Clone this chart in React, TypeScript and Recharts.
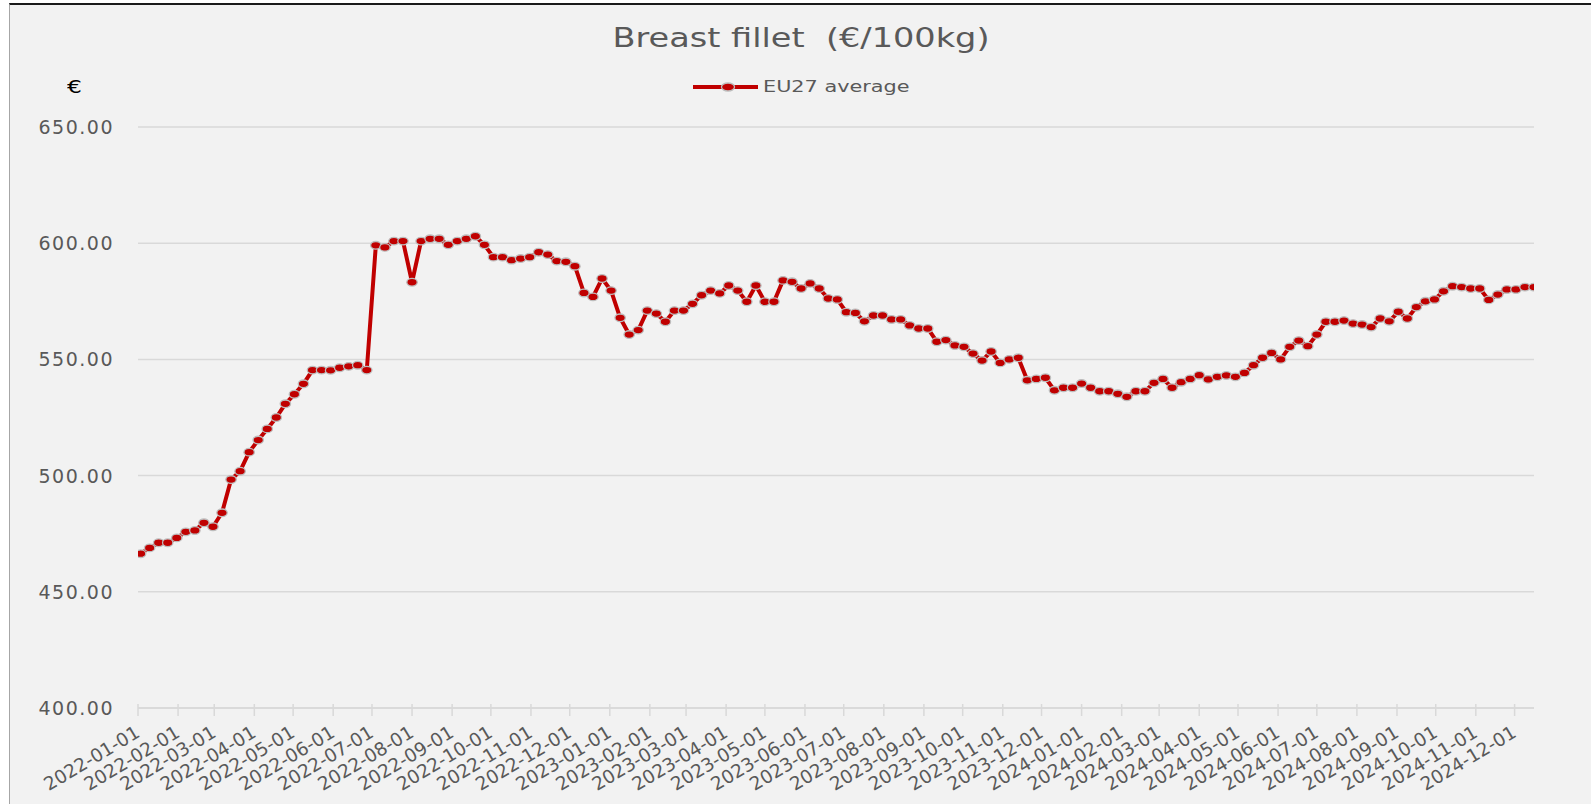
import React from "react";
import { LineChart, Line, XAxis, YAxis, CartesianGrid } from "recharts";

// weekly quotations, first week starts Monday 2022-01-03
const FIRST_WEEK = "2022-01-03";
const AXIS_START = "2022-01-01";
const AXIS_END = "2024-12-16";
const DAY = 24 * 3600 * 1000;

const monthTicks = [
  "2022-01-01", "2022-02-01", "2022-03-01", "2022-04-01", "2022-05-01", "2022-06-01",
  "2022-07-01", "2022-08-01", "2022-09-01", "2022-10-01", "2022-11-01", "2022-12-01",
  "2023-01-01", "2023-02-01", "2023-03-01", "2023-04-01", "2023-05-01", "2023-06-01",
  "2023-07-01", "2023-08-01", "2023-09-01", "2023-10-01", "2023-11-01", "2023-12-01",
  "2024-01-01", "2024-02-01", "2024-03-01", "2024-04-01", "2024-05-01", "2024-06-01",
  "2024-07-01", "2024-08-01", "2024-09-01", "2024-10-01", "2024-11-01", "2024-12-01",
];

const yTicks = [400, 450, 500, 550, 600, 650];

// EU27 average, €/100kg
const eu27Average = [
  466.4, 468.9, 471.1, 471.1, 473.2, 475.8, 476.4, 479.7, 478.0, 484.0,
  498.3, 501.9, 510.1, 515.3, 520.1, 525.0, 530.9, 535.0, 539.5, 545.4,
  545.4, 545.3, 546.4, 547.0, 547.5, 545.4, 599.1, 598.2, 600.9, 600.9,
  583.2, 600.9, 601.9, 601.9, 599.3, 600.9, 601.9, 603.0, 599.3, 594.0,
  594.0, 592.7, 593.4, 594.0, 596.1, 595.1, 592.3, 592.0, 590.1, 578.6,
  576.9, 584.8, 579.6, 567.9, 560.7, 562.6, 571.0, 569.7, 566.2, 571.0,
  571.0, 573.9, 577.6, 579.6, 578.4, 581.8, 579.6, 574.8, 581.8, 574.8,
  574.8, 584.0, 583.4, 580.5, 582.7, 580.5, 576.2, 575.8, 570.3, 570.0,
  566.4, 568.9, 568.9, 567.2, 567.2, 564.6, 563.3, 563.3, 557.6, 558.3,
  556.0, 555.4, 552.5, 549.5, 553.4, 548.5, 550.0, 550.7, 541.0, 541.6,
  542.1, 536.7, 537.8, 537.8, 539.6, 537.8, 536.3, 536.3, 535.2, 533.9,
  536.3, 536.3, 539.9, 541.6, 537.8, 540.2, 541.6, 543.2, 541.4, 542.5,
  543.1, 542.5, 544.2, 547.5, 550.7, 552.8, 550.0, 555.4, 558.1, 555.7,
  560.7, 566.2, 566.2, 566.7, 565.4, 565.0, 563.9, 567.6, 566.4, 570.5,
  567.6, 572.5, 575.0, 575.8, 579.3, 581.5, 581.1, 580.5, 580.5, 575.6,
  577.9, 580.1, 580.1, 581.1, 581.1,
];

const RED = "#c00000";
const TEXT = "#595959";
const GRID = "#d9d9d9";
const FONT = "'DejaVu Sans', sans-serif";

const firstWeek = Date.parse(FIRST_WEEK);
const data = eu27Average.map((value, i) => ({ date: firstWeek + i * 7 * DAY, value }));
const tickValues = monthTicks.map((d) => Date.parse(d));

const Dot = (props: any) => {
  const { cx, cy, index } = props;
  if (cx == null || cy == null) return null;
  return (
    <ellipse key={index} cx={cx} cy={cy} rx={5.2} ry={3.8} fill={RED} stroke="#bdbdbd" strokeWidth={1.3} />
  );
};

const XTick = (props: any) => {
  const { x, y, payload } = props;
  const label = new Date(payload.value).toISOString().slice(0, 10);
  return (
    <g>
      <line x1={x} y1={y - 6} x2={x} y2={y + 6} stroke={GRID} strokeWidth={1.5} />
      <text
        transform={`translate(${x + 3},${y + 26}) rotate(-31)`}
        textAnchor="end"
        fill={TEXT}
        fontSize={18.5}
        fontFamily={FONT}
      >
        {label}
      </text>
    </g>
  );
};

const YTick = (props: any) => {
  const { x, y, payload } = props;
  return (
    <text x={x} y={y} textAnchor="end" dominantBaseline="central" fill={TEXT} fontSize={19} fontFamily={FONT} letterSpacing={1.5}>
      {payload.value.toFixed(2)}
    </text>
  );
};

export default function App() {
  return (
    <div style={{ position: "absolute", left: 0, top: 0, width: 1591, height: 804, background: "#fff", overflow: "hidden" }}>
      <div
        style={{
          position: "absolute",
          left: 9,
          top: 3,
          right: 0,
          bottom: 0,
          background: "#f2f2f2",
          borderLeft: "1px solid #a6a6a6",
          borderTop: "2px solid #1a1a1a",
        }}
      />
      <div
        style={{
          position: "absolute",
          left: 801,
          top: 23,
          transform: "translateX(-50%) scaleX(1.29)",
          whiteSpace: "pre",
          font: `26px ${FONT}`,
          lineHeight: "30px",
          color: TEXT,
        }}
      >
        {"Breast fillet  (€/100kg)"}
      </div>
      <div
        style={{
          position: "absolute",
          left: 67,
          top: 77,
          font: `18px ${FONT}`,
          lineHeight: "20px",
          color: "#000",
          transform: "scaleX(1.3)",
          transformOrigin: "left center",
        }}
      >
        €
      </div>
      <div style={{ position: "absolute", left: 693, top: 76, height: 22, display: "flex", alignItems: "center" }}>
        <svg width={66} height={22}>
          <line x1={0} y1={11} x2={65} y2={11} stroke={RED} strokeWidth={4} />
          <ellipse cx={35} cy={11} rx={6.5} ry={4} fill={RED} stroke="#bdbdbd" strokeWidth={1.3} />
        </svg>
        <span
          style={{
            marginLeft: 4,
            display: "inline-block",
            font: `16px ${FONT}`,
            lineHeight: "22px",
            color: TEXT,
            transform: "scaleX(1.3)",
            transformOrigin: "left center",
          }}
        >
          EU27 average
        </span>
      </div>
      <div style={{ position: "absolute", left: 0, top: 0 }}>
        <LineChart width={1591} height={804} data={data} margin={{ top: 127, right: 57, bottom: 6, left: 0 }}>
          <CartesianGrid vertical={false} stroke={GRID} strokeWidth={1.5} />
          <XAxis
            dataKey="date"
            type="number"
            domain={[Date.parse(AXIS_START), Date.parse(AXIS_END)]}
            ticks={tickValues}
            interval={0}
            tickSize={0}
            tickLine={false}
            tick={<XTick />}
            axisLine={{ stroke: GRID, strokeWidth: 1.5 }}
            height={90}
            allowDataOverflow
          />
          <YAxis
            domain={[400, 650]}
            ticks={yTicks}
            interval={0}
            axisLine={false}
            tickLine={false}
            tickSize={0}
            tickMargin={24}
            width={138}
            tick={<YTick />}
          />
          <Line
            type="linear"
            dataKey="value"
            stroke={RED}
            strokeWidth={4}
            strokeLinejoin="round"
            dot={<Dot />}
            activeDot={false}
            isAnimationActive={false}
          />
        </LineChart>
      </div>
    </div>
  );
}
